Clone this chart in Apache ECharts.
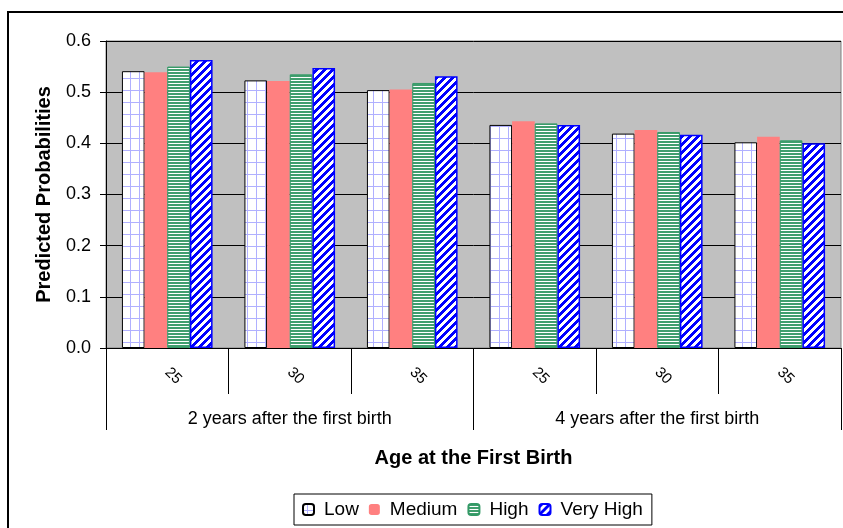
<!DOCTYPE html>
<html>
<head>
<meta charset="utf-8">
<script src="https://cdn.jsdelivr.net/npm/echarts@6/dist/echarts.min.js"></script>
<style>
html,body{margin:0;padding:0;background:#fff;}
#chart{width:843px;height:528px;}
</style>
</head>
<body>
<div id="chart"></div>
<script>
// ---- data ----
const categories = ['25', '30', '35', '25', '30', '35'];
const groups = ['2 years after the first birth', '4 years after the first birth'];
const seriesNames = ['Low', 'Medium', 'High', 'Very High'];
const lowValues = [0.541, 0.523, 0.504, 0.436, 0.419, 0.402];
const mediumValues = [0.539, 0.522, 0.505, 0.443, 0.426, 0.413];
const highValues = [0.550, 0.535, 0.518, 0.439, 0.422, 0.406];
const veryHighValues = [0.563, 0.547, 0.531, 0.436, 0.417, 0.400];
const yTicks = [0, 0.1, 0.2, 0.3, 0.4, 0.5, 0.6];

// ---- patterns ----
function pattern(w, h, fn) {
  const c = document.createElement('canvas');
  c.width = w; c.height = h;
  const ctx = c.getContext('2d');
  const img = ctx.createImageData(w, h);
  for (let y = 0; y < h; y++) for (let x = 0; x < w; x++) {
    const col = fn(x, y);
    const i = (y * w + x) * 4;
    img.data[i] = col[0]; img.data[i + 1] = col[1]; img.data[i + 2] = col[2]; img.data[i + 3] = 255;
  }
  ctx.putImageData(img, 0, 0);
  return { image: c, repeat: 'repeat' };
}
const WHITE = [255, 255, 255];
const lowPat = pattern(9, 12, (x, y) => (x === 4 || y === 6) ? [176, 176, 255] : WHITE);
const highPat = pattern(4, 3, (x, y) => (y < 2) ? [64, 158, 110] : WHITE);
const vhPat = pattern(8, 8, (x, y) => ((x + y) % 8) < 4 ? [0, 0, 255] : WHITE);

const FONT = 'Liberation Sans, Arial, sans-serif';
const chart = echarts.init(document.getElementById('chart'), null, { renderer: 'canvas' });

function bar(name, data, itemStyle) {
  return {
    name: name, type: 'bar', data: data, xAxisIndex: 0, yAxisIndex: 0,
    barGap: '0%', barCategoryGap: '26%',
    itemStyle: itemStyle,
    emphasis: { disabled: true }
  };
}

chart.setOption({
  animation: false,
  backgroundColor: '#fff',
  textStyle: { fontFamily: FONT },
  graphic: [{
    type: 'rect', silent: true, z: 100,
    shape: { x: 8, y: 12, width: 900, height: 600 },
    style: { fill: 'none', stroke: '#000', lineWidth: 2 }
  }],
  grid: {
    left: 106, right: 2, top: 41, bottom: 180,
    show: true, backgroundColor: '#C0C0C0', borderColor: '#808080', borderWidth: 1
  },
  legend: {
    data: seriesNames,
    left: 294, top: 494,
    borderColor: '#000', borderWidth: 1,
    padding: [6, 9, 6, 8],
    itemGap: 10, itemWidth: 11, itemHeight: 11,
    textStyle: { fontSize: 19, color: '#000', fontFamily: FONT, padding: [0, 0, 0, 5] }
  },
  xAxis: [{
    type: 'category', data: categories, position: 'bottom', offset: 0,
    axisLine: { show: true, lineStyle: { color: '#000', width: 1 } },
    axisTick: { show: true, interval: 0, length: 46, lineStyle: { color: '#000', width: 1 } },
    axisLabel: { interval: 0, rotate: -45, fontSize: 15, color: '#000', fontFamily: FONT, margin: 22 },
    splitLine: { show: false }
  }, {
    type: 'category', data: groups, position: 'bottom', offset: 0,
    axisLine: { show: false },
    axisTick: { show: true, interval: 0, length: 82, lineStyle: { color: '#000', width: 1 } },
    axisLabel: { interval: 0, fontSize: 18, color: '#000', fontFamily: FONT, margin: 62 },
    splitLine: { show: false },
    name: 'Age at the First Birth', nameLocation: 'middle', nameGap: 100,
    nameTextStyle: { fontSize: 20, fontWeight: 'bold', color: '#000', fontFamily: FONT }
  }],
  yAxis: {
    type: 'value', min: yTicks[0], max: yTicks[yTicks.length - 1], interval: 0.1,
    axisLine: { show: true, lineStyle: { color: '#000', width: 1 } },
    axisTick: { show: true, length: 6, lineStyle: { color: '#000', width: 1 } },
    axisLabel: { fontSize: 18, color: '#000', fontFamily: FONT, margin: 15, formatter: v => v.toFixed(1) },
    splitLine: { show: true, lineStyle: { color: '#000', width: 1 } },
    name: 'Predicted Probabilities', nameLocation: 'middle', nameGap: 52,
    nameTextStyle: { fontSize: 20, fontWeight: 'bold', color: '#000', fontFamily: FONT }
  },
  series: [
    bar(seriesNames[0], lowValues, { color: lowPat, borderColor: '#000', borderWidth: 1 }),
    bar(seriesNames[1], mediumValues, { color: '#FF8080', borderWidth: 0 }),
    bar(seriesNames[2], highValues, { color: highPat, borderColor: '#339966', borderWidth: 1 }),
    bar(seriesNames[3], veryHighValues, { color: vhPat, borderColor: '#0000FF', borderWidth: 1.5 })
  ]
});
</script>
</body>
</html>
